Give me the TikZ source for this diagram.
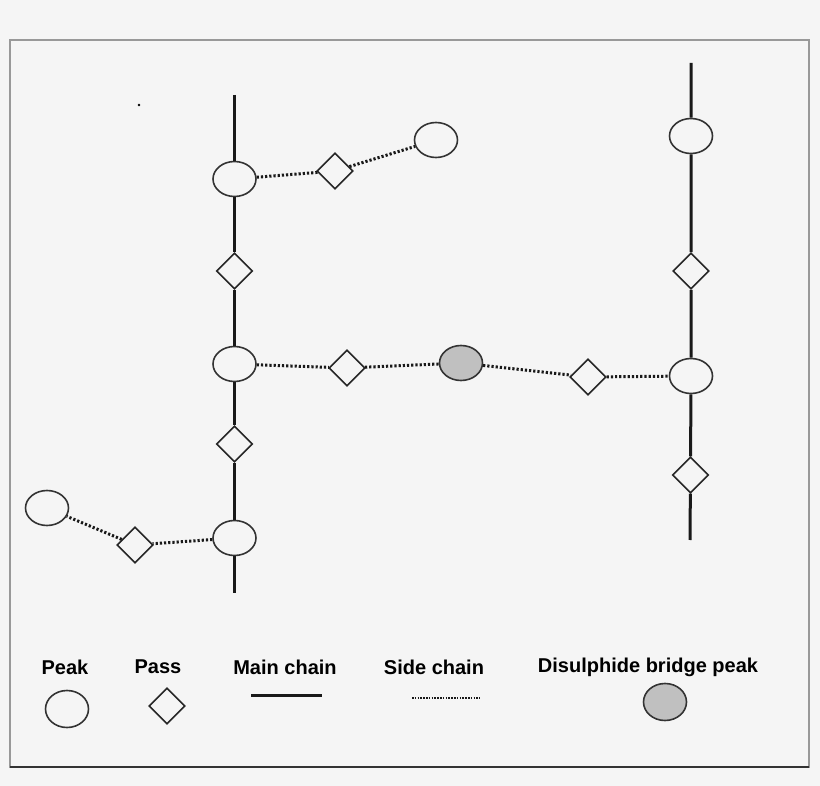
\documentclass[tikz,border=0pt]{standalone}
\usepackage{fontspec}
\setmainfont{Liberation Sans}
\usetikzlibrary{positioning,shapes.geometric}
\definecolor{bggray}{HTML}{F5F5F5}
\definecolor{bridgegray}{HTML}{C0C0C0}
\definecolor{framegray}{HTML}{999999}
\tikzset{
    peak/.style={draw=black!80,ellipse,line width=1.6pt,fill=bggray,inner sep=0pt,minimum width=43pt,minimum height=35pt},
    bridge/.style={peak,fill=bridgegray},
    pass/.style={draw=black!85,diamond,line width=1.6pt,fill=bggray,inner sep=0pt,minimum width=36pt,minimum height=36pt},
    mainchain/.style={line width=3pt,black!90},
    sidechain/.style={line width=3pt,black!90,dash pattern=on 2.2pt off 2pt},
    legendtext/.style={font=\bfseries\fontsize{20}{24}\selectfont,inner sep=0pt}
}
\begin{document}
\begin{tikzpicture}[x=1pt,y=-1pt]
    \fill[bggray] (0,0) rectangle (820,786);
    \useasboundingbox (0,0) rectangle (820,786);
    \draw[framegray,line width=1.2pt] (10,40) rectangle (809,767);
    \draw[black!80,line width=1.2pt] (10,767) -- (809,767);
    \fill (139,105) circle (1.4pt);

    % left main chain
    \coordinate (ltop) at (234.5,95);
    \coordinate (lbot) at (234.5,593);
    \node[peak] (peakA) at (234.5,179) {};
    \node[pass] (passA) at (234.5,271) {};
    \node[peak] (peakB) at (234.5,364) {};
    \node[pass] (passB) at (234.5,444) {};
    \node[peak] (peakC) at (234.5,538) {};

    % right main chain
    \coordinate (rtop) at (691,63);
    \coordinate (rbot) at (690,540);
    \node[peak] (peakD) at (691,136) {};
    \node[pass] (passD) at (691,271) {};
    \node[peak] (peakE) at (691,376) {};
    \node[pass] (passE) at (690.5,475) {};

    % side chain nodes
    \node[pass] (passF) at (335,171) {};
    \node[peak] (peakF) at (436,140) {};
    \node[pass] (passG) at (347,368) {};
    \node[bridge] (bridgeG) at (461,363) {};
    \node[pass] (passH) at (588,377) {};
    \node[pass] (passI) at (135,545) {};
    \node[peak] (peakI) at (47,508) {};

    \draw[mainchain] (ltop) -- (peakA) -- (passA) -- (peakB) -- (passB) -- (peakC) -- (lbot);
    \draw[mainchain] (rtop) -- (peakD) -- (passD) -- (peakE) -- (passE) -- (rbot);
    \draw[sidechain] (peakA) -- (passF) -- (peakF);
    \draw[sidechain] (peakB) -- (passG) -- (bridgeG) -- (passH) -- (peakE);
    \draw[sidechain] (peakC) -- (passI) -- (peakI);

    % legend
    \node[legendtext] (lpeak) at (65,667) {Peak};
    \node[legendtext] (lpass) at (158,667) {Pass};
    \node[legendtext] (lmain) at (285,667) {Main chain};
    \node[legendtext] (lside) at (434,667) {Side chain};
    \node[legendtext] (lbridge) at (648,667) {Disulphide bridge peak};
    \node[peak,minimum height=37pt] (lpeaksym) at (67,709) {};
    \node[pass] (lpasssym) at (167,706) {};
    \coordinate (lmainL) at (251,695);
    \coordinate (lmainR) at (322,695);
    \draw[mainchain] (lmainL) -- (lmainR);
    \coordinate (lsideL) at (412,698);
    \coordinate (lsideR) at (480,698);
    \draw[black!90,line width=1.8pt,dash pattern=on 1.5pt off 1.3pt] (lsideL) -- (lsideR);
    \node[bridge,minimum height=37pt] (lbridgesym) at (665,702) {};
\end{tikzpicture}
\end{document}
